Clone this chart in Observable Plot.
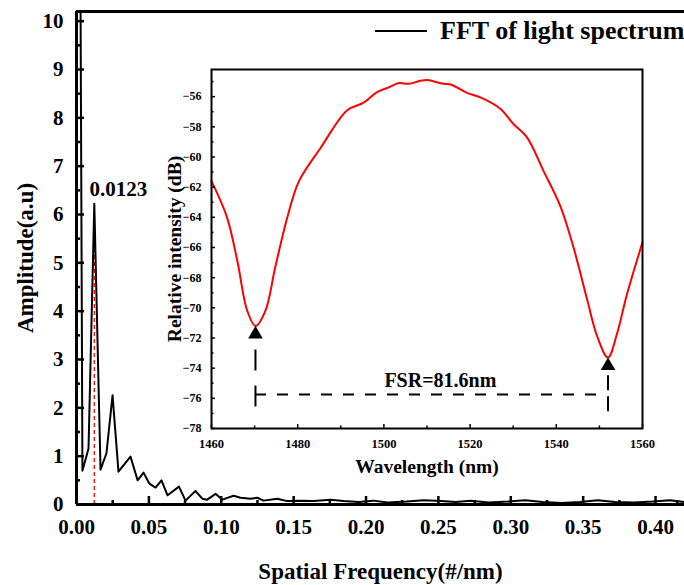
<!DOCTYPE html>
<html>
<head>
<meta charset="utf-8">
<script src="https://cdn.jsdelivr.net/npm/d3@7"></script>
<script src="https://cdn.jsdelivr.net/npm/@observablehq/plot@0.6"></script>
<style>
body { margin: 0; background: #fff; }
#wrap { position: relative; width: 684px; height: 585px; overflow: hidden; font-family: "Liberation Serif", serif; background: #fff; }
#wrap > svg { position: absolute; left: 0; top: 0; }
#legend { position: absolute; left: 375px; top: 16px; display: flex; align-items: center; font: bold 26px "Liberation Serif", serif; white-space: nowrap; }
#legend svg { margin-right: 13px; }
</style>
</head>
<body>
<div id="wrap"><div id="legend"></div></div>
<script>
// ---- Main chart: FFT of light spectrum ----
const fftFreq = [0.0028, 0.0041, 0.0083, 0.0123, 0.0166, 0.0207, 0.0249, 0.0290, 0.0373, 0.0422, 0.0463, 0.0504, 0.0546, 0.0587, 0.0629, 0.0708, 0.0753, 0.0822, 0.0869, 0.0903, 0.0961, 0.1007, 0.1085, 0.1133, 0.1202, 0.1249, 0.1292, 0.1387, 0.1456, 0.1548, 0.1638, 0.1755, 0.1845, 0.195, 0.205, 0.215, 0.228, 0.240, 0.252, 0.262, 0.272, 0.285, 0.298, 0.310, 0.322, 0.335, 0.348, 0.360, 0.372, 0.385, 0.398, 0.410, 0.420];
const fftAmp  = [10.4, 0.70, 1.16, 6.22, 0.72, 1.06, 2.26, 0.68, 0.99, 0.50, 0.66, 0.43, 0.35, 0.50, 0.19, 0.37, 0.08, 0.28, 0.12, 0.10, 0.22, 0.10, 0.18, 0.14, 0.12, 0.14, 0.08, 0.12, 0.07, 0.08, 0.07, 0.10, 0.07, 0.05, 0.08, 0.04, 0.06, 0.09, 0.07, 0.05, 0.08, 0.04, 0.06, 0.09, 0.05, 0.03, 0.05, 0.09, 0.05, 0.04, 0.06, 0.09, 0.05];
const peakFreq = 0.0123;
const peakAmp = 6.22;
const peakLabel = "0.0123";
const mainXTicks = [0, 0.05, 0.10, 0.15, 0.20, 0.25, 0.30, 0.35, 0.40];
const mainXMinor = [0.025, 0.075, 0.125, 0.175, 0.225, 0.275, 0.325, 0.375, 0.415];
const mainYTicks = [0, 1, 2, 3, 4, 5, 6, 7, 8, 9, 10];
const mainYMinor = [0.5, 1.5, 2.5, 3.5, 4.5, 5.5, 6.5, 7.5, 8.5, 9.5];
const mainXTitle = "Spatial Frequency(#/nm)";
const mainYTitle = "Amplitude(a.u)";
const legendLabel = "FFT of light spectrum";

// ---- Inset: light spectrum ----
const wavelength = [1460, 1463.6, 1466, 1468.3, 1470.2, 1472.5, 1474.8, 1477.6, 1480.3, 1485.3, 1491.5, 1495.3, 1498.4, 1501, 1503.5, 1505.7, 1508.5, 1510, 1513.8, 1515.5, 1519.3, 1522.4, 1527, 1530, 1533.2, 1537, 1541, 1544, 1547.2, 1549.5, 1552, 1554.1, 1556.4, 1560];
const intensity  = [-61.6, -64.0, -66.9, -70.2, -71.2, -70.2, -67.3, -64.0, -61.6, -59.4, -56.9, -56.4, -55.7, -55.4, -55.1, -55.15, -54.95, -54.9, -55.15, -55.2, -55.75, -56.05, -56.8, -57.8, -58.7, -60.9, -63.3, -66.0, -69.5, -71.9, -73.3, -71.7, -69.1, -65.65];
const dipWl = [1470.2, 1552.0];
const dipMarkerDb = [-71.75, -73.85];
const dipLineTop = [-72.8, -74.5];
const dipLineBottom = [-76.6, -76.9];
const fsrLineDb = -75.75;
const fsrLabel = "FSR=81.6nm";
const insetXTicks = [1460, 1480, 1500, 1520, 1540, 1560];
const insetXMinor = [1470, 1490, 1510, 1530, 1550];
const insetYTicks = [-78, -76, -74, -72, -70, -68, -66, -64, -62, -60, -58, -56];
const insetYMinor = [-77, -75, -73, -71, -69, -67, -65, -63, -61, -59, -57, -55];
const insetXTitle = "Wavelength (nm)";
const insetYTitle = "Relative intensity (dB)";

const FONT = "'Liberation Serif', 'Times New Roman', serif";
const fft = fftFreq.map((f, i) => ({f, a: fftAmp[i]}));
const spec = wavelength.map((w, i) => ({w, db: intensity[i]}));
const dips = dipWl.map((w, i) => ({w, m: dipMarkerDb[i], t: dipLineTop[i], b: dipLineBottom[i]}));

const main = Plot.plot({
  width: 684, height: 585,
  marginLeft: 76, marginRight: 0, marginTop: 11, marginBottom: 81,
  style: {fontFamily: FONT, fontWeight: "bold", background: "white", color: "black"},
  x: {domain: [0, 0.42]},
  y: {domain: [0, 10.2]},
  marks: [
    Plot.ruleX([peakFreq], {y1: 0, y2: peakAmp, stroke: "#ff0000", strokeWidth: 1.3, strokeDasharray: "4,3"}),
    Plot.line(fft, {x: "f", y: "a", stroke: "black", strokeWidth: 2, clip: true}),
    Plot.axisX({ticks: mainXTicks, tickSize: -8, tickPadding: 23, fontSize: 21, strokeWidth: 2.5, tickFormat: d3.format(".2f"), label: null}),
    Plot.axisX({ticks: mainXMinor, tickSize: -4, tickFormat: () => "", strokeWidth: 2.5, label: null}),
    Plot.axisY({ticks: mainYTicks, tickSize: -8, tickPadding: 21, fontSize: 21, strokeWidth: 2.5, tickFormat: d3.format("d"), label: null}),
    Plot.axisY({ticks: mainYMinor, tickSize: -4, tickFormat: () => "", strokeWidth: 2.5, label: null}),
    Plot.ruleX([0], {stroke: "black", strokeWidth: 3}),
    Plot.ruleY([0], {stroke: "black", strokeWidth: 3}),
    Plot.ruleY([10.2], {stroke: "black", strokeWidth: 3}),
    Plot.text([peakLabel], {x: () => peakFreq, y: () => peakAmp, text: d => d, dx: 24, dy: -15, fontSize: 21, fontWeight: "bold"}),
    Plot.text([mainXTitle], {frameAnchor: "bottom", text: d => d, textAnchor: "middle", lineAnchor: "middle", dy: 67, fontSize: 23, fontWeight: "bold"}),
    Plot.text([mainYTitle], {frameAnchor: "left", text: d => d, textAnchor: "middle", lineAnchor: "middle", dx: -51, rotate: -90, fontSize: 23, fontWeight: "bold"})
  ]
});

const inset = Plot.plot({
  width: 684, height: 585,
  marginLeft: 211, marginRight: 42, marginTop: 69, marginBottom: 157,
  style: {fontFamily: FONT, fontWeight: "bold", background: "transparent", color: "black"},
  x: {domain: [1460, 1560]},
  y: {domain: [-78, -54.2]},
  marks: [
    Plot.line(spec, {x: "w", y: "db", stroke: "#ff0000", strokeWidth: 2, curve: "catmull-rom"}),
    Plot.ruleX(dips.slice(0, 1), {x: "w", y1: "t", y2: "b", stroke: "black", strokeWidth: 2, strokeDasharray: "21,15"}),
    Plot.ruleX(dips.slice(1), {x: "w", y1: "t", y2: "b", stroke: "black", strokeWidth: 2, strokeDasharray: "15,6"}),
    Plot.ruleY([fsrLineDb], {x1: dipWl[0], x2: dipWl[1] - 1.5, stroke: "black", strokeWidth: 2, strokeDasharray: "11,11"}),
    Plot.dot(dips, {x: "w", y: "m", symbol: "triangle", r: 5.4, fill: "black", stroke: "none"}),
    Plot.text([fsrLabel], {x: () => (dipWl[0] + dipWl[1]) / 2 + 2, y: () => fsrLineDb, text: d => d, dy: -14, fontSize: 20, fontWeight: "bold"}),
    Plot.axisX({ticks: insetXTicks, tickSize: -4, tickPadding: 15, fontSize: 12.5, strokeWidth: 1.5, tickFormat: d3.format("d"), label: null}),
    Plot.axisX({ticks: insetXMinor, tickSize: -2.5, tickFormat: () => "", strokeWidth: 1.5, label: null}),
    Plot.axisY({ticks: insetYTicks, tickSize: -4, tickPadding: 14, fontSize: 12, strokeWidth: 1.5, tickFormat: d3.format("d"), label: null}),
    Plot.axisY({ticks: insetYMinor, tickSize: -2.5, tickFormat: () => "", strokeWidth: 1.5, label: null}),
    Plot.frame({stroke: "black", strokeWidth: 2}),
    Plot.text([insetXTitle], {frameAnchor: "bottom", text: d => d, textAnchor: "middle", lineAnchor: "middle", dy: 38, fontSize: 19.5, fontWeight: "bold"}),
    Plot.text([insetYTitle], {frameAnchor: "left", text: d => d, textAnchor: "middle", lineAnchor: "middle", dx: -37, rotate: -90, fontSize: 19.5, fontWeight: "bold"})
  ]
});

const wrap = document.getElementById("wrap");
wrap.insertBefore(main, wrap.firstChild);
wrap.insertBefore(inset, document.getElementById("legend"));

// legend
const legend = document.getElementById("legend");
legend.innerHTML = `<svg width="52" height="6"><line x1="0" x2="52" y1="3" y2="3" stroke="black" stroke-width="2"/></svg><span>${legendLabel}</span>`;
</script>
</body>
</html>
